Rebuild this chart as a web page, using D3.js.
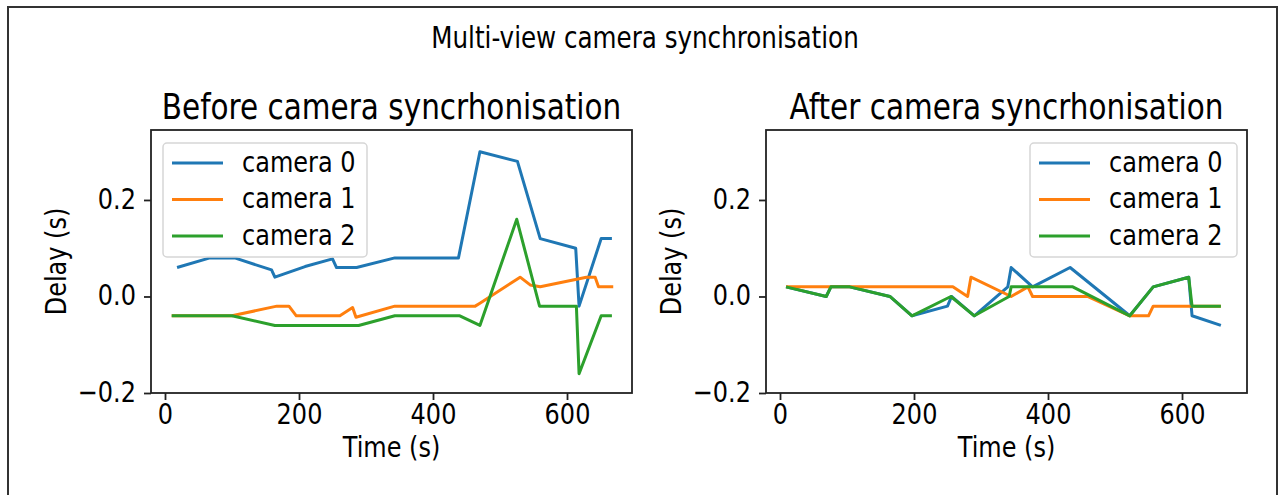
<!DOCTYPE html>
<html>
<head>
<meta charset="utf-8">
<script src="https://cdn.jsdelivr.net/npm/d3@7"></script>
<style>
  body { margin: 0; background: #fff; }
  text { font-family: "DejaVu Sans", sans-serif; fill: #000; }
</style>
</head>
<body>
<svg id="chart" width="1284" height="495"></svg>
<script>
// --- data ---
var cameraNames = ["camera 0", "camera 1", "camera 2"];
var cameraColors = ["#1f77b4", "#ff7f0e", "#2ca02c"];
var xTicks = [0, 200, 400, 600];
var yTicks = [-0.2, 0.0, 0.2];

var beforeCam0 = [[18,0.06],[67,0.08],[104,0.08],[159,0.055],[164,0.04],[209,0.062],[250,0.078],[256,0.06],[286,0.06],[343,0.08],[438,0.08],[470,0.30],[526,0.28],[560,0.12],[613,0.10],[618,-0.02],[651,0.12],[667,0.12]];
var beforeCam1 = [[10,-0.04],[100,-0.04],[167,-0.02],[185,-0.02],[196,-0.04],[261,-0.04],[280,-0.023],[285,-0.043],[343,-0.02],[463,-0.02],[470,-0.014],[530,0.04],[545,0.024],[560,0.02],[609,0.034],[629,0.04],[642,0.04],[647,0.02],[669,0.02]];
var beforeCam2 = [[10,-0.04],[100,-0.04],[164,-0.06],[289,-0.06],[343,-0.04],[440,-0.04],[470,-0.06],[525,0.16],[559,-0.02],[614,-0.02],[618,-0.16],[651,-0.04],[667,-0.04]];

var afterCam0 = [[9,0.02],[69,0],[76,0.02],[104,0.02],[164,0],[197,-0.04],[250,-0.02],[256,0],[290,-0.04],[340,0.02],[345,0.06],[377,0.02],[433,0.06],[522,-0.04],[557,0.02],[610,0.04],[615,-0.04],[658,-0.06]];
var afterCam1 = [[9,0.02],[258,0.02],[280,0],[285,0.04],[345,0],[370,0.02],[377,0],[459,0],[522,-0.04],[550,-0.04],[557,-0.02],[658,-0.02]];
var afterCam2 = [[9,0.02],[69,0],[76,0.02],[104,0.02],[164,0],[197,-0.04],[255,0],[290,-0.04],[342,0],[345,0.02],[437,0.02],[522,-0.04],[557,0.02],[610,0.04],[615,-0.02],[658,-0.02]];

// --- layout ---
var STRETCH = 1.2; // the picture's text is taller than it is wide
var plotTop = 130, plotBottom = 393;
var panels = [
  { title: "Before camera syncrhonisation", left: 151, right: 632, series: [beforeCam0, beforeCam1, beforeCam2], legend: { x: 163, w: 204 } },
  { title: "After camera syncrhonisation", left: 766, right: 1247, series: [afterCam0, afterCam1, afterCam2], legend: { x: 1030, w: 207 } }
];

var svg = d3.select("#chart");

function label(g, str, x, y, size, anchor) {
  return g.append("text")
    .attr("transform", "translate(" + x + "," + y + ") scale(1," + STRETCH + ")")
    .attr("text-anchor", anchor || "middle")
    .style("font-size", size + "px")
    .text(str);
}

// outer frame
svg.append("path")
  .attr("d", "M8,495 V7 H1277 V495")
  .attr("fill", "none")
  .attr("stroke", "#333")
  .attr("stroke-width", 2);

label(svg, "Multi-view camera synchronisation", 645, 48, 24.6);

panels.forEach(function(p) {
  var x = d3.scaleLinear().domain([-20.9, 697]).range([p.left, p.right]);
  var y = d3.scaleLinear().domain([-0.2, 0.345]).range([plotBottom, plotTop]);
  var g = svg.append("g");

  var line = d3.line()
    .x(function(d) { return x(d[0]); })
    .y(function(d) { return y(d[1]); });

  p.series.forEach(function(s, i) {
    g.append("path")
      .attr("d", line(s))
      .attr("fill", "none")
      .attr("stroke", cameraColors[i])
      .attr("stroke-width", 3)
      .attr("stroke-linejoin", "round");
  });

  // axes
  var xAxis = g.append("g")
    .attr("transform", "translate(0," + plotBottom + ")")
    .call(d3.axisBottom(x).tickValues(xTicks).tickSize(7).tickSizeOuter(0).tickFormat(d3.format("d")));
  var yAxis = g.append("g")
    .attr("transform", "translate(" + p.left + ",0)")
    .call(d3.axisLeft(y).tickValues(yTicks).tickSize(7).tickSizeOuter(0)
      .tickFormat(function(d) { return d3.format(".1f")(d).replace("-", "\u2212"); }));
  [xAxis, yAxis].forEach(function(a) {
    a.select(".domain").remove();
    a.selectAll("line").attr("stroke", "#222").attr("stroke-width", 1.8);
    a.selectAll("text").style("font-size", "24px").style("font-family", "DejaVu Sans, sans-serif").attr("fill", "#000");
  });
  xAxis.selectAll("text").attr("y", 0).attr("dy", null)
    .attr("transform", "translate(0,31) scale(1," + STRETCH + ")");
  yAxis.selectAll("text").attr("x", 0).attr("dy", null)
    .attr("transform", "translate(-15,8.5) scale(1," + STRETCH + ")");

  // frame
  g.append("rect")
    .attr("x", p.left).attr("y", plotTop)
    .attr("width", p.right - p.left).attr("height", plotBottom - plotTop)
    .attr("fill", "none").attr("stroke", "#222").attr("stroke-width", 1.8);

  label(g, p.title, (p.left + p.right) / 2, 119, 29.5);
  label(g, "Time (s)", (p.left + p.right) / 2, 457, 24);
  g.append("text")
    .attr("transform", "translate(" + (p.left - 85) + "," + ((plotTop + plotBottom) / 2) + ") rotate(-90) scale(1," + STRETCH + ")")
    .attr("text-anchor", "middle")
    .style("font-size", "24px")
    .text("Delay (s)");

  // legend
  var lg = g.append("g");
  lg.append("rect")
    .attr("x", p.legend.x).attr("y", 143)
    .attr("width", p.legend.w).attr("height", 114)
    .attr("rx", 4)
    .attr("fill", "rgba(255,255,255,0.8)")
    .attr("stroke", "#d6d6d6").attr("stroke-width", 1.5);
  cameraNames.forEach(function(name, i) {
    var ry = 163 + i * 36.5;
    lg.append("line")
      .attr("x1", p.legend.x + 9).attr("x2", p.legend.x + 60)
      .attr("y1", ry).attr("y2", ry)
      .attr("stroke", cameraColors[i]).attr("stroke-width", 3);
    label(lg, name, p.legend.x + 79, ry + 8.5, 24, "start");
  });
});
</script>
</body>
</html>
